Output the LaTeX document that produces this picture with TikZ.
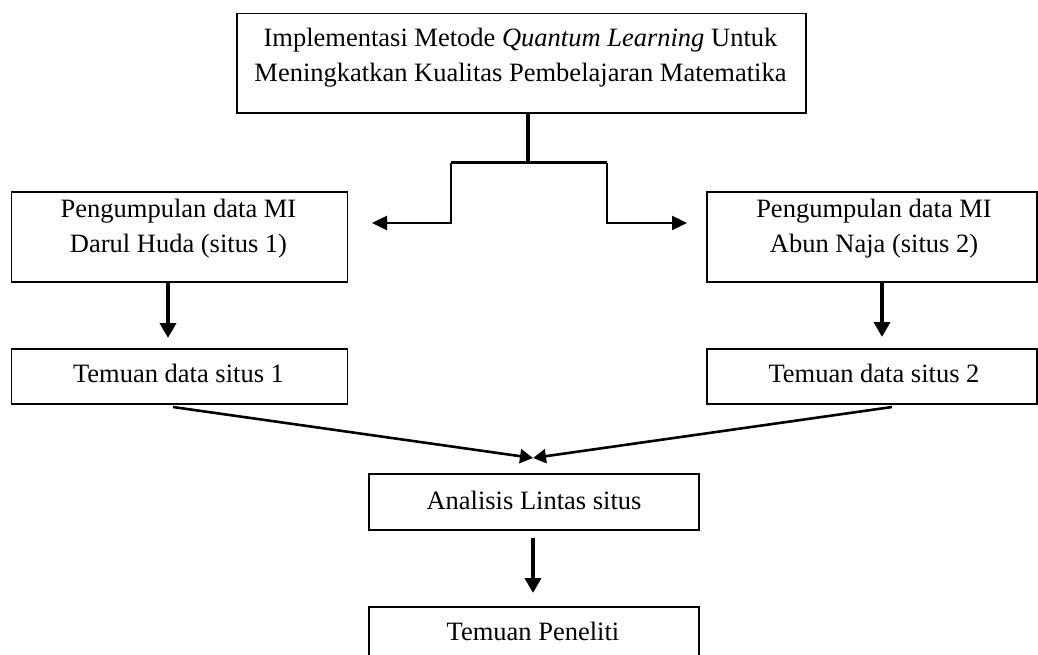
\documentclass[tikz,border=0pt]{standalone}
\usepackage{fontspec}
\setmainfont{Liberation Serif}
\usetikzlibrary{arrows.meta}
\begin{document}
\begin{tikzpicture}[x=1pt,y=-1pt,
  box/.style={draw, line width=1.7pt, minimum width=#1, anchor=north west, inner sep=0pt},
  txt/.style={font=\fontsize{26.5}{35}\selectfont, align=center, inner sep=0pt, anchor=base},
  thin/.style={line width=2.4pt},
  thick/.style={line width=4pt},
  harr/.style={thin, -{Triangle[length=15pt,width=14pt]}},
  varr/.style={thick, -{Triangle[length=15pt,width=16pt]}},
  darr/.style={line width=2.6pt, -{Triangle[length=13pt,width=14pt]}}
]
\useasboundingbox (0,0) rectangle (1038,655);

% boxes
\node[box=569pt, minimum height=99.3pt] (top) at (236,12.7) {};
\node[box=336pt, minimum height=90pt] (l) at (10.7,191) {};
\node[box=330pt, minimum height=90pt] (r) at (706,191) {};
\node[box=336pt, minimum height=55pt] (t1) at (10.7,348) {};
\node[box=330pt, minimum height=55pt] (t2) at (706,348) {};
\node[box=330pt, minimum height=56pt] (an) at (368,473) {};
\node[box=330pt, minimum height=60pt] (tp) at (368,606) {};

% texts (base anchor = baseline of the last line)
\node[txt] (topt) at (520.5,82) {Implementasi Metode \textit{Quantum Learning} Untuk\\Meningkatkan Kualitas Pembelajaran Matematika};
\node[txt] (lt) at (178.5,252.7) {Pengumpulan data MI\\Darul Huda (situs 1)};
\node[txt] (rt) at (874,252.7) {Pengumpulan data MI\\Abun Naja (situs 2)};
\node[txt] (t1t) at (178.5,382.7) {Temuan data situs 1};
\node[txt] (t2t) at (874,382.7) {Temuan data situs 2};
\node[txt] (ant) at (534,509.3) {Analisis Lintas situs};
\node[txt] (tpt) at (533,640) {Temuan Peneliti};

% coordinates
\coordinate (tk) at (528,162.7);
\coordinate (bl) at (451,162.7);
\coordinate (br) at (607,162.7);
\coordinate (al) at (372,223);
\coordinate (ar) at (687,223);
\coordinate (c1) at (168,0);
\coordinate (c2) at (882,0);
\coordinate (d1) at (173,407);
\coordinate (d2) at (892,407);
\coordinate (m) at (533,458);

% top trunk and bracket
\draw[thick] (top.south -| tk) -- (tk);
\draw[thin] (bl) -- (br);
\draw[harr] (bl) -- (bl |- al) -- (al);
\draw[harr] (br) -- (br |- ar) -- (ar);

% vertical arrows
\draw[varr, shorten >=10pt] (l.south -| c1) -- (t1.north -| c1);
\draw[varr, shorten >=11pt] (r.south -| c2) -- (t2.north -| c2);

% diagonals
\draw[darr] (d1) -- (m);
\draw[darr] (d2) -- (m);

% bottom arrow
\draw[varr, shorten <=7pt, shorten >=13pt] (an.south -| m) -- (tp.north -| m);
\end{tikzpicture}
\end{document}
